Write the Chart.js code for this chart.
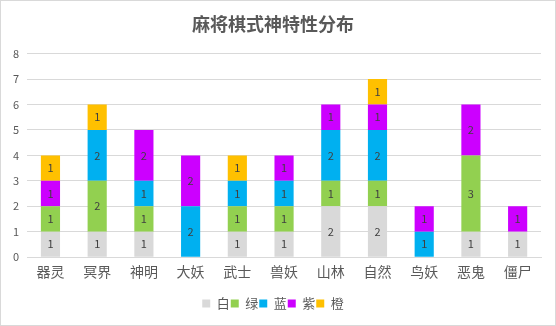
<!DOCTYPE html>
<html><head><meta charset="utf-8">
<script src="https://cdn.jsdelivr.net/npm/chart.js@4/dist/chart.umd.min.js"></script>
<style>
html,body{margin:0;padding:0;background:#fff;}
#wrap{position:absolute;left:0;top:0;width:554px;height:324px;border:1px solid #D9D9D9;}
canvas{display:block;}
</style></head><body>
<div id="wrap"><canvas id="c" width="554" height="324"></canvas></div>
<script>
const categories = ['器灵','冥界','神明','大妖','武士','兽妖','山林','自然','鸟妖','恶鬼','僵尸'];
const white  = [1,1,1,0,1,1,2,2,0,1,1];
const green  = [1,2,1,0,1,1,1,1,0,3,0];
const blue   = [0,2,1,2,1,1,2,2,1,0,0];
const purple = [1,0,2,2,0,1,1,1,1,2,1];
const orange = [1,1,0,0,1,0,0,1,0,0,0];
const seriesNames = ['白','绿','蓝','紫','橙'];
const yTicks = [0,1,2,3,4,5,6,7,8];

const FONT = '"Noto Sans CJK SC", "Noto Sans", sans-serif';
const colors = ['#D9D9D9','#92D050','#00B0F0','#CC00FF','#FFC000'];
const seriesData = [white, green, blue, purple, orange];

const labelPlugin = {
  id: 'barLabels',
  afterDatasetsDraw(chart) {
    const ctx = chart.ctx;
    ctx.save();
    ctx.font = '11px ' + FONT;
    ctx.fillStyle = '#404040';
    ctx.textAlign = 'center';
    ctx.textBaseline = 'middle';
    chart.data.datasets.forEach((ds, i) => {
      const meta = chart.getDatasetMeta(i);
      meta.data.forEach((el, j) => {
        const v = ds.data[j];
        if (!v) return;
        ctx.fillText(String(v), el.x, (el.y + el.base) / 2);
      });
    });
    ctx.restore();
  }
};

new Chart(document.getElementById('c'), {
  type: 'bar',
  data: {
    labels: categories,
    datasets: seriesData.map((d, i) => ({
      label: seriesNames[i],
      data: d,
      backgroundColor: colors[i],
      borderWidth: 0,
      categoryPercentage: 1,
      barPercentage: 0.41
    }))
  },
  options: {
    responsive: false,
    animation: false,
    layout: { padding: { left: 4, right: 14, top: 4, bottom: 5 } },
    plugins: {
      title: {
        display: true,
        text: '麻将棋式神特性分布',
        color: '#595959',
        font: { family: FONT, size: 18, weight: 'bold' },
        padding: { top: 8, bottom: 19 }
      },
      legend: {
        position: 'bottom',
        labels: {
          boxWidth: 8, boxHeight: 8,
          color: '#595959',
          font: { family: FONT, size: 13 },
          padding: 1
        }
      },
      tooltip: { enabled: false }
    },
    scales: {
      x: {
        stacked: true,
        grid: { display: false, drawTicks: false },
        border: { color: '#D9D9D9' },
        ticks: { color: '#595959', font: { family: FONT, size: 14 }, padding: 6 },
        afterFit(axis) { axis.height += 10; }
      },
      y: {
        stacked: true,
        min: 0, max: 8,
        afterBuildTicks(axis) { axis.ticks = yTicks.map(v => ({ value: v })); },
        grid: { color: '#D9D9D9', drawTicks: false },
        border: { display: false },
        ticks: { color: '#595959', font: { family: FONT, size: 11 }, padding: 8 }
      }
    }
  },
  plugins: [labelPlugin]
});
</script>
</body></html>
